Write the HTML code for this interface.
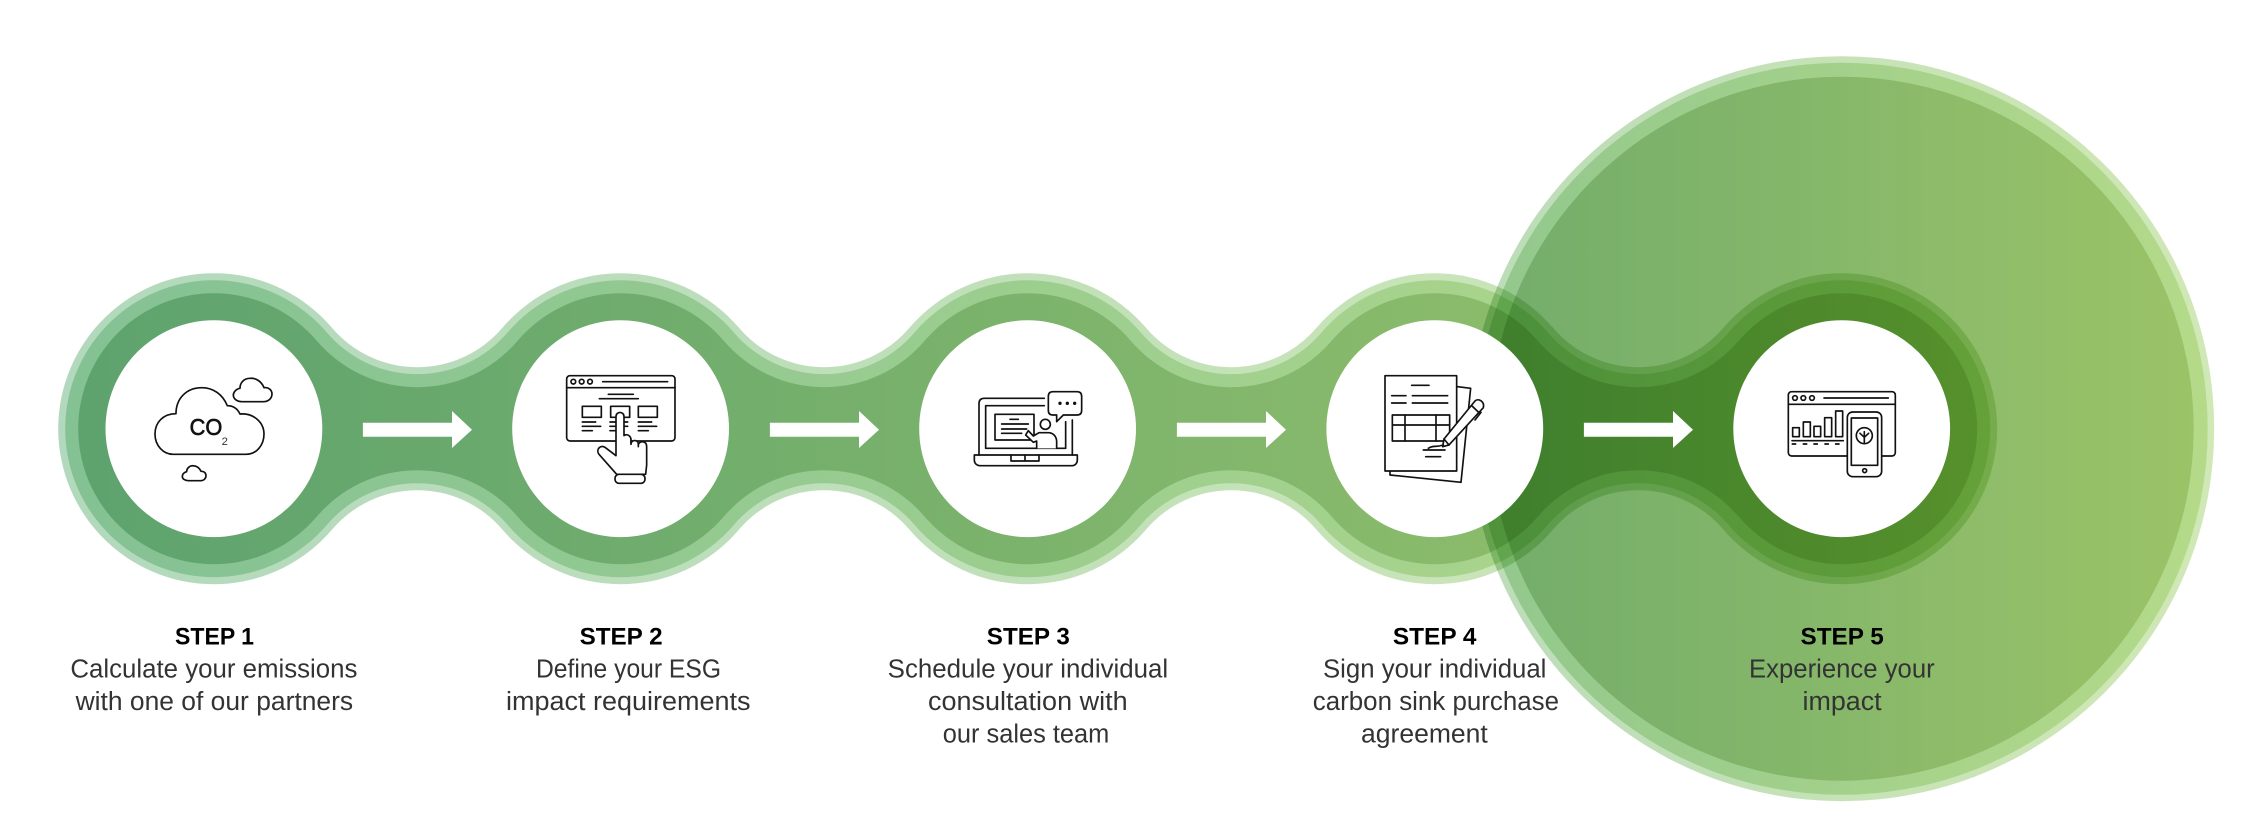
<!DOCTYPE html>
<html lang="en"><head><meta charset="utf-8"><title>Steps</title>
<style>html,body{margin:0;padding:0;background:#fff;width:2247px;height:840px;overflow:hidden}svg{display:block}
.t{font-family:"Liberation Sans",sans-serif;font-size:25.5px;fill:#333}
.h{font-family:"Liberation Sans",sans-serif;font-size:24.5px;font-weight:700;fill:#000}
.i{fill:none;stroke:#111;stroke-width:5;stroke-linejoin:round;stroke-linecap:round}
</style></head><body>
<svg width="2247" height="840" viewBox="0 0 2247 840" xmlns="http://www.w3.org/2000/svg">
<defs>
<linearGradient id="g1" gradientUnits="userSpaceOnUse" x1="58" y1="0" x2="2000" y2="0"><stop offset="0" stop-color="#5da26e"/><stop offset="1" stop-color="#9bc46a"/></linearGradient>
<linearGradient id="r1" gradientUnits="userSpaceOnUse" x1="58" y1="0" x2="2000" y2="0"><stop offset="0" stop-color="#55aa6c"/><stop offset="1" stop-color="#98cc5c"/></linearGradient>
<linearGradient id="g2" gradientUnits="userSpaceOnUse" x1="1470" y1="0" x2="2214" y2="0"><stop offset="0" stop-color="#72ac6b"/><stop offset="1" stop-color="#9cc468"/></linearGradient>
<linearGradient id="r2" gradientUnits="userSpaceOnUse" x1="1470" y1="0" x2="2214" y2="0"><stop offset="0" stop-color="#68b262"/><stop offset="1" stop-color="#98cc5c"/></linearGradient>
</defs>
<rect width="2247" height="840" fill="#fff"/>
<path fill="url(#r1)" fill-opacity=".45" d="M332.08 327.88A111.8 111.8 0 0 0 502.32 327.88A155.5 155.5 0 0 1 739.08 327.88A111.8 111.8 0 0 0 909.32 327.88A155.5 155.5 0 0 1 1146.08 327.88A111.8 111.8 0 0 0 1316.32 327.88A155.5 155.5 0 0 1 1553.08 327.88A111.8 111.8 0 0 0 1723.32 327.88A155.5 155.5 0 1 1 1723.32 529.52A111.8 111.8 0 0 0 1553.08 529.52A155.5 155.5 0 0 1 1316.32 529.52A111.8 111.8 0 0 0 1146.08 529.52A155.5 155.5 0 0 1 909.32 529.52A111.8 111.8 0 0 0 739.08 529.52A155.5 155.5 0 0 1 502.32 529.52A111.8 111.8 0 0 0 332.08 529.52A155.5 155.5 0 1 1 332.08 327.88Z"/>
<path fill="url(#r1)" fill-opacity=".5" d="M326.76 332.42A118.8 118.8 0 0 0 507.64 332.42A148.5 148.5 0 0 1 733.76 332.42A118.8 118.8 0 0 0 914.64 332.42A148.5 148.5 0 0 1 1140.76 332.42A118.8 118.8 0 0 0 1321.64 332.42A148.5 148.5 0 0 1 1547.76 332.42A118.8 118.8 0 0 0 1728.64 332.42A148.5 148.5 0 1 1 1728.64 524.98A118.8 118.8 0 0 0 1547.76 524.98A148.5 148.5 0 0 1 1321.64 524.98A118.8 118.8 0 0 0 1140.76 524.98A148.5 148.5 0 0 1 914.64 524.98A118.8 118.8 0 0 0 733.76 524.98A148.5 148.5 0 0 1 507.64 524.98A118.8 118.8 0 0 0 326.76 524.98A148.5 148.5 0 1 1 326.76 332.42Z"/>
<path fill="url(#g1)" d="M316.86 340.85A131.8 131.8 0 0 0 517.54 340.85A135.5 135.5 0 0 1 723.86 340.85A131.8 131.8 0 0 0 924.54 340.85A135.5 135.5 0 0 1 1130.86 340.85A131.8 131.8 0 0 0 1331.54 340.85A135.5 135.5 0 0 1 1537.86 340.85A131.8 131.8 0 0 0 1738.54 340.85A135.5 135.5 0 1 1 1738.54 516.55A131.8 131.8 0 0 0 1537.86 516.55A135.5 135.5 0 0 1 1331.54 516.55A131.8 131.8 0 0 0 1130.86 516.55A135.5 135.5 0 0 1 924.54 516.55A131.8 131.8 0 0 0 723.86 516.55A135.5 135.5 0 0 1 517.54 516.55A131.8 131.8 0 0 0 316.86 516.55A135.5 135.5 0 1 1 316.86 340.85Z"/>
<g style="mix-blend-mode:multiply">
<circle cx="1841.7" cy="428.7" r="372.5" fill="url(#r2)" fill-opacity=".45"/>
<circle cx="1841.7" cy="428.7" r="366" fill="url(#r2)" fill-opacity=".5"/>
<circle cx="1841.7" cy="428.7" r="352" fill="url(#g2)"/>
</g>
<g fill="#fff">
<circle cx="213.9" cy="428.7" r="108.4"/><circle cx="620.6" cy="428.7" r="108.4"/><circle cx="1027.6" cy="428.7" r="108.4"/><circle cx="1434.8" cy="428.7" r="108.4"/><circle cx="1841.7" cy="428.7" r="108.4"/>
<path d="M362.9 422.7H452V411L472 429.7L452 448V436.7H362.9Z"/>
<path d="M769.9 422.7H859V411L879 429.7L859 448V436.7H769.9Z"/>
<path d="M1176.9 422.7H1266V411L1286 429.7L1266 448V436.7H1176.9Z"/>
<path d="M1583.9 422.7H1673V411L1693 429.7L1673 448V436.7H1583.9Z"/>
</g>

<!-- icon 1 -->
<g transform="translate(140 365) scale(.3333)">
<g class="i">
<path d="M100 268H318C350 268 372 240 372 207C372 172 340 143 300 147C292 130 278 122 262 122C248 88 220 68 185 68C140 68 108 100 108 146C70 146 45 172 45 207C45 242 70 268 100 268Z"/>
<path d="M305 110H370C385 110 396 100 396 87C396 74 384 66 372 68C365 50 348 38 330 40C310 40 300 55 300 70C288 72 280 82 280 90C280 102 292 110 305 110Z"/>
<path d="M145 347H182C192 347 198 340 198 332C198 324 192 318 183 319C178 308 168 302 157 302C146 303 140 312 140 320C132 322 127 328 127 334C127 342 135 347 145 347Z"/>
</g>
<text x="149" y="210" font-family="Liberation Sans,sans-serif" font-size="70" fill="#111" stroke="#111" stroke-width="2" textLength="98" lengthAdjust="spacingAndGlyphs">CO</text>
<text x="245" y="240" font-family="Liberation Sans,sans-serif" font-size="34" fill="#333">2</text>
</g>

<!-- icon 2 -->
<g transform="translate(555 365) scale(.3333)" class="i">
<rect x="35" y="32" width="325" height="196" rx="10"/>
<path d="M35 68H360M143 50H338M160 88H235M133 101H250M82 171H122M82 184H137M82 197H112M165 171H182M165 184H182M165 197H182M207 171H218M207 184H218M250 171H290M250 184H305M250 197H280"/>
<circle cx="55" cy="50" r="7"/><circle cx="80" cy="50" r="7"/><circle cx="105" cy="50" r="7"/>
<rect x="82" y="124" width="57" height="33"/><rect x="167" y="124" width="57" height="33"/><rect x="250" y="124" width="57" height="33"/>
<path fill="#fff" d="M183 272V155C183 138 207 138 207 155V212C215 205 228 212 228 225V235C233 222 250 225 250 238C256 226 275 228 275 245V300L272 328H185L132 268C122 255 135 238 150 247L183 272Z"/>
<path d="M228 225V238M250 238V245"/>
<rect x="180" y="328" width="90" height="27" rx="12" fill="#fff"/>
</g>

<!-- icon 3 -->
<g transform="translate(965 380) scale(.3333)" class="i">
<path d="M238 55H58Q42 55 42 71V225M322 120V225M238 77H62V205H302V125"/>
<path d="M28 225H337V240C337 250 330 257 322 257H45C35 257 28 250 28 240Z"/>
<path d="M138 225V243H222V225M180 225V243"/>
<path d="M264 35H336Q350 35 350 49V91Q350 105 336 105H295L275 125V105H264Q250 105 250 91V49Q250 35 264 35Z"/>
<circle cx="285" cy="70" r="2.5" fill="#111"/><circle cx="307" cy="70" r="2.5" fill="#111"/><circle cx="329" cy="70" r="2.5" fill="#111"/>
<rect x="90" y="103" width="117" height="77"/>
<path d="M135 118H160M110 132H190M110 147H185M110 160H170"/>
<circle cx="241" cy="133" r="15"/>
<path fill="#fff" d="M215 205V183L205 187L182 165L190 152L205 168L222 158H250C265 158 275 170 275 185V205"/>
</g>

<!-- icon 4 -->
<g transform="translate(1375 365) scale(.3333)" class="i">
<path d="M248 65L287 70L258 352L45 330V318"/>
<rect x="30" y="32" width="215" height="286" fill="#fff"/>
<path d="M110 61H162M50 92H93M112 92H218M50 114H93M112 114H218"/>
<rect x="52" y="150" width="172" height="78"/>
<path d="M52 180H224M90 150V228M183 150V228"/>
<path fill="#fff" d="M203 245L207 222L300 108C310 98 330 110 325 128L222 240Z"/>
<path d="M290 122L315 146M300 165L318 142M207 222L222 240"/>
<path d="M145 255H210M160 250C175 240 180 248 205 240M152 275H197"/>
</g>

<!-- icon 5 -->
<g transform="translate(1700 280) scale(.3333)" class="i">
<rect x="265" y="335" width="321" height="193" rx="10"/>
<path d="M265 373H586M372 354H565M276 482H430M277 492H287M310 492H320M342 492H352M375 492H385M407 492H417"/>
<circle cx="285" cy="354" r="7"/><circle cx="310" cy="354" r="7"/><circle cx="336" cy="354" r="7"/>
<rect x="278" y="443" width="20" height="27"/><rect x="310" y="426" width="21" height="44"/><rect x="342" y="439" width="20" height="31"/><rect x="374" y="413" width="21" height="57"/><rect x="407" y="393" width="21" height="77"/>
<rect x="442" y="396" width="103" height="194" rx="16" fill="#fff"/>
<rect x="454" y="414" width="79" height="142"/>
<circle cx="494" cy="572" r="6"/>
<circle cx="493" cy="467" r="24"/>
<path d="M493 490V455M493 472L480 460M493 472L506 460"/>
</g>

<!-- text -->
<text class="h" x="175" y="644.5" textLength="79" lengthAdjust="spacingAndGlyphs">STEP 1</text>
<text class="t" x="70.4" y="677.3" textLength="287" lengthAdjust="spacingAndGlyphs">Calculate your emissions</text>
<text class="t" x="75.6" y="710" textLength="277.5" lengthAdjust="spacingAndGlyphs">with one of our partners</text>

<text class="h" x="579.6" y="644.5" textLength="83" lengthAdjust="spacingAndGlyphs">STEP 2</text>
<text class="t" x="536" y="677.3" textLength="185" lengthAdjust="spacingAndGlyphs">Define your ESG</text>
<text class="t" x="506" y="710" textLength="244.5" lengthAdjust="spacingAndGlyphs">impact requirements</text>

<text class="h" x="986.8" y="644.5" textLength="83" lengthAdjust="spacingAndGlyphs">STEP 3</text>
<text class="t" x="887.7" y="677.3" textLength="280.5" lengthAdjust="spacingAndGlyphs">Schedule your individual</text>
<text class="t" x="928" y="710" textLength="199.6" lengthAdjust="spacingAndGlyphs">consultation with</text>
<text class="t" x="942.8" y="742.7" textLength="166.5" lengthAdjust="spacingAndGlyphs">our sales team</text>

<text class="h" x="1392.9" y="644.5" textLength="83.6" lengthAdjust="spacingAndGlyphs">STEP 4</text>
<text class="t" x="1323" y="677.3" textLength="223.4" lengthAdjust="spacingAndGlyphs">Sign your individual</text>
<text class="t" x="1312.8" y="710" textLength="246.2" lengthAdjust="spacingAndGlyphs">carbon sink purchase</text>
<text class="t" x="1361" y="742.7" textLength="126.8" lengthAdjust="spacingAndGlyphs">agreement</text>

<text class="h" x="1800.5" y="644.5" textLength="83.2" lengthAdjust="spacingAndGlyphs">STEP 5</text>
<text class="t" x="1749" y="677.3" textLength="185.7" lengthAdjust="spacingAndGlyphs">Experience your</text>
<text class="t" x="1802.5" y="710" textLength="79.1" lengthAdjust="spacingAndGlyphs">impact</text>
</svg>
</body></html>
